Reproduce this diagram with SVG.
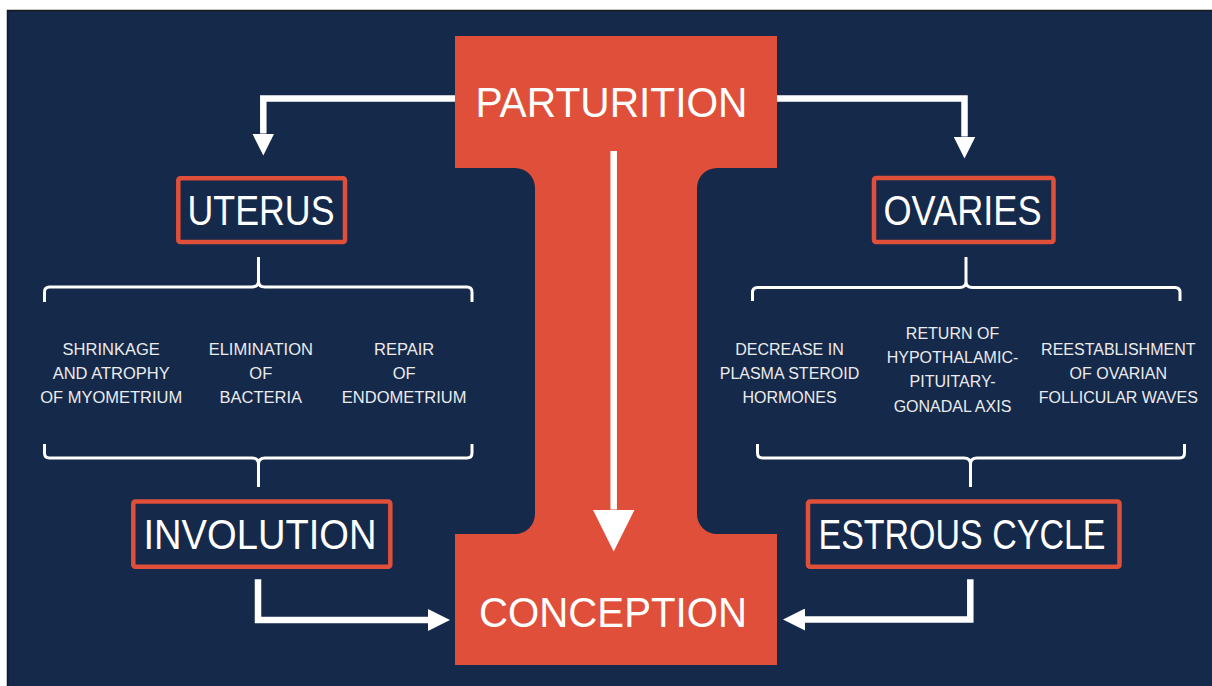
<svg xmlns="http://www.w3.org/2000/svg" width="1212" height="686" viewBox="0 0 1212 686">
<defs>
<style>
.big{font-family:"Liberation Sans",Arial,sans-serif;font-size:42px;fill:#ffffff;}
.sm{font-family:"Liberation Sans",Arial,sans-serif;font-size:16.5px;fill:#ececec;text-anchor:middle;}
.sm2{font-family:"Liberation Sans",Arial,sans-serif;font-size:16px;fill:#ececec;text-anchor:middle;}
.box{fill:none;stroke:#e04f3a;stroke-width:4.5;}
.arr{fill:none;stroke:#ffffff;stroke-width:6.5;stroke-linejoin:miter;}
.brace{fill:none;stroke:#ffffff;stroke-width:3;stroke-linejoin:round;stroke-linecap:butt;}
</style>
<marker id="ah" markerUnits="userSpaceOnUse" markerWidth="22" markerHeight="22" viewBox="0 0 22 22" refX="0" refY="11" orient="auto">
<path d="M0,0 L22,11 L0,22 Z" fill="#ffffff"/>
</marker>
<marker id="ahBig" markerUnits="userSpaceOnUse" markerWidth="42" markerHeight="42" viewBox="0 0 42 42" refX="0" refY="21" orient="auto">
<path d="M0,0 L42,21 L0,42 Z" fill="#ffffff"/>
</marker>
</defs>
<rect x="0" y="0" width="1212" height="686" fill="#ffffff"/>
<rect x="7.5" y="10.5" width="1210" height="680" fill="#15294b" stroke="#1a1a1a" stroke-width="1.5"/>

<g id="node-parturition-conception">
<path d="M455,36 H777 V168 H717 A20,20 0 0 0 697,188 V514 A20,20 0 0 0 717,534 H777 V665 H455 V534 H515 A20,20 0 0 0 535,514 V188 A20,20 0 0 0 515,168 H455 Z" fill="#e04f3a"/>
</g>
<g id="node-parturition">
<text class="big" x="475.5" y="116.7" textLength="272" lengthAdjust="spacingAndGlyphs">PARTURITION</text>
</g>
<g id="node-conception">
<text class="big" x="479" y="626.7" textLength="268" lengthAdjust="spacingAndGlyphs">CONCEPTION</text>
</g>

<g id="node-uterus">
<rect class="box" x="178.3" y="178.2" width="166.7" height="63.8" rx="2"/>
<text class="big" x="187.5" y="225" font-size="40.5" textLength="147" lengthAdjust="spacingAndGlyphs">UTERUS</text>
</g>
<g id="node-ovaries">
<rect class="box" x="874" y="178" width="179.5" height="64" rx="2"/>
<text class="big" x="883.5" y="225" font-size="40.5" textLength="158" lengthAdjust="spacingAndGlyphs">OVARIES</text>
</g>
<g id="node-involution">
<rect class="box" x="133.3" y="501.5" width="257" height="65.3" rx="2"/>
<text class="big" x="143.5" y="549.3" font-size="40.5" textLength="233" lengthAdjust="spacingAndGlyphs">INVOLUTION</text>
</g>
<g id="node-estrous">
<rect class="box" x="808" y="501.5" width="311.5" height="65.3" rx="2"/>
<text class="big" x="818.5" y="549.3" font-size="40.5" textLength="287" lengthAdjust="spacingAndGlyphs">ESTROUS CYCLE</text>
</g>

<g id="node-uterus-items">
<text class="sm" x="111.2" y="355">SHRINKAGE</text>
<text class="sm" x="111.2" y="379">AND ATROPHY</text>
<text class="sm" x="111.2" y="402.7">OF MYOMETRIUM</text>
<text class="sm" x="260.8" y="355">ELIMINATION</text>
<text class="sm" x="260.8" y="379">OF</text>
<text class="sm" x="260.8" y="402.7">BACTERIA</text>
<text class="sm" x="404.2" y="355">REPAIR</text>
<text class="sm" x="404.2" y="379">OF</text>
<text class="sm" x="404.2" y="402.7">ENDOMETRIUM</text>
</g>
<g id="node-ovaries-items">
<text class="sm2" x="789.5" y="355">DECREASE IN</text>
<text class="sm2" x="789.5" y="379">PLASMA STEROID</text>
<text class="sm2" x="789.5" y="402.7">HORMONES</text>
<text class="sm2" x="952.5" y="339.3">RETURN OF</text>
<text class="sm2" x="952.5" y="363.3">HYPOTHALAMIC-</text>
<text class="sm2" x="952.5" y="387.3">PITUITARY-</text>
<text class="sm2" x="952.5" y="411.7">GONADAL AXIS</text>
<text class="sm2" x="1118.3" y="355">REESTABLISHMENT</text>
<text class="sm2" x="1118.3" y="379">OF OVARIAN</text>
<text class="sm2" x="1118.3" y="402.7">FOLLICULAR WAVES</text>
</g>

<g id="connectors">
<path class="arr" d="M455,98.5 H263.3 V133.5" marker-end="url(#ah)"/>
<path class="arr" d="M777,98.5 H964.5 V136.5" marker-end="url(#ah)"/>
<path class="arr" d="M613.7,151 V509.5" stroke-width="14" marker-end="url(#ahBig)"/>
<path class="arr" d="M258,579.3 V620 H428" marker-end="url(#ah)"/>
<path class="arr" d="M970.3,579.3 V619.5 H805" marker-end="url(#ah)"/>
<path class="brace" d="M44.5,302 V292 Q44.5,287 49.5,287 H252 Q258.5,287 258.5,281 V257 M258.5,281 Q258.5,287 265,287 H467 Q472,287 472,292 V302"/>
<path class="brace" d="M752.5,301 V292.5 Q752.5,287.5 757.5,287.5 H959.5 Q966,287.5 966,281.5 V257 M966,281.5 Q966,287.5 972.5,287.5 H1175 Q1180,287.5 1180,292.5 V301"/>
<path class="brace" d="M44.5,444 V453 Q44.5,458 49.5,458 H252 Q258.5,458 258.5,464 V487 M258.5,464 Q258.5,458 265,458 H467 Q472,458 472,453 V444"/>
<path class="brace" d="M757.5,444 V453 Q757.5,458 762.5,458 H964 Q970.5,458 970.5,464 V487 M970.5,464 Q970.5,458 977,458 H1179.5 Q1184.5,458 1184.5,453 V444"/>
</g>
</svg>
